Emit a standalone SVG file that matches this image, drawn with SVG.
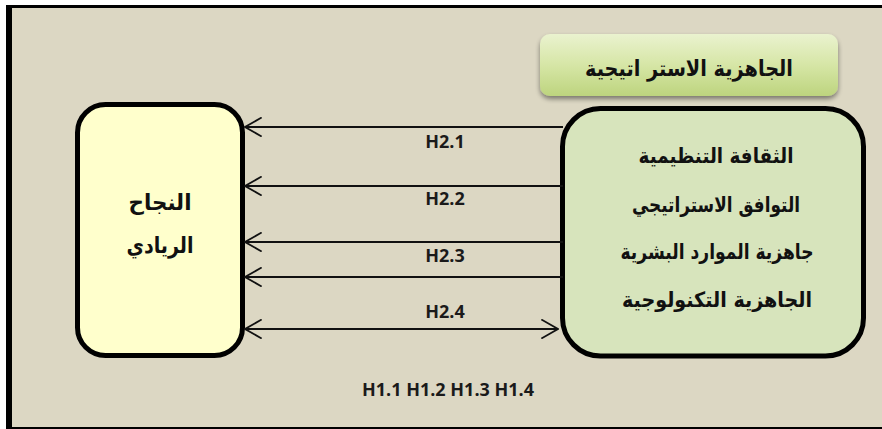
<svg xmlns="http://www.w3.org/2000/svg" width="882" height="429" viewBox="0 0 882 429">
<defs>
<style>
.lat{font-family:"Open Sans","DejaVu Sans",sans-serif;font-weight:bold;font-size:18px;fill:#1a1a1a;text-anchor:middle}
.ar{font-family:"DejaVu Sans",sans-serif;font-weight:bold;fill:#111;text-anchor:middle}
.conn{stroke:#111;stroke-width:1.8;fill:none}
.box{stroke:#000;stroke-width:5}
</style>
<marker id="ah" viewBox="0 0 18 20" refX="17.2" refY="10" markerWidth="18" markerHeight="20" markerUnits="userSpaceOnUse" orient="auto-start-reverse">
<path d="M0.5,0.5 L17.2,10 L0.5,19.5" fill="none" stroke="#111" stroke-width="1.8"/>
</marker>
<linearGradient id="tg" x1="0" y1="0" x2="0" y2="1">
<stop offset="0" stop-color="#EAF2CF"/>
<stop offset="0.5" stop-color="#D6E6A6"/>
<stop offset="1" stop-color="#BDD47E"/>
</linearGradient>
<filter id="sh" x="-10%" y="-10%" width="120%" height="140%">
<feGaussianBlur in="SourceAlpha" stdDeviation="2.5"/>
<feOffset dx="0" dy="3" result="b"/>
<feComponentTransfer><feFuncA type="linear" slope="0.45"/></feComponentTransfer>
<feMerge><feMergeNode/><feMergeNode in="SourceGraphic"/></feMerge>
</filter>
</defs>
<rect x="0" y="0" width="882" height="429" fill="#fff"/>
<rect x="6" y="5" width="876" height="424" fill="#000"/>
<rect x="12" y="8" width="870" height="419" fill="#DCD7C3"/>

<g id="title">
<rect x="540" y="34" width="298" height="62" rx="10" fill="url(#tg)" filter="url(#sh)"/>
<text class="ar" x="689" y="76" font-size="22" textLength="208" lengthAdjust="spacingAndGlyphs">الجاهزية الاستر اتيجية</text>
</g>

<g id="left">
<rect class="box" x="77.5" y="104.5" width="165" height="251" rx="28" fill="#FFFFCC"/>
<text class="ar" x="160" y="210" font-size="22" textLength="63" lengthAdjust="spacingAndGlyphs">النجاح</text>
<text class="ar" x="160" y="253" font-size="22" textLength="67" lengthAdjust="spacingAndGlyphs">الريادي</text>
</g>

<g id="right">
<rect class="box" x="562.5" y="108.5" width="301" height="247.5" rx="38" fill="#D7E4BC"/>
<text class="ar" x="716" y="163" font-size="21" textLength="155" lengthAdjust="spacingAndGlyphs">الثقافة التنظيمية</text>
<text class="ar" x="716" y="212" font-size="21" textLength="168" lengthAdjust="spacingAndGlyphs">التوافق الاستراتيجي</text>
<text class="ar" x="717" y="259" font-size="21" textLength="193" lengthAdjust="spacingAndGlyphs">جاهزية الموارد البشرية</text>
<text class="ar" x="717" y="307" font-size="21" textLength="190" lengthAdjust="spacingAndGlyphs">الجاهزية التكنولوجية</text>
</g>

<g id="connectors">
<line class="conn" x1="563" y1="127" x2="245" y2="127" marker-end="url(#ah)"/>
<line class="conn" x1="563" y1="186" x2="245" y2="186" marker-end="url(#ah)"/>
<line class="conn" x1="563" y1="242" x2="245" y2="242" marker-end="url(#ah)"/>
<line class="conn" x1="563" y1="277" x2="245" y2="277" marker-end="url(#ah)"/>
<line class="conn" x1="245" y1="329" x2="558" y2="329" marker-start="url(#ah)" marker-end="url(#ah)"/>
<text class="lat" x="445" y="148">H2.1</text>
<text class="lat" x="445" y="205">H2.2</text>
<text class="lat" x="445" y="262">H2.3</text>
<text class="lat" x="445" y="318">H2.4</text>
</g>

<text class="lat" x="448" y="396">H1.1 H1.2 H1.3 H1.4</text>
</svg>
